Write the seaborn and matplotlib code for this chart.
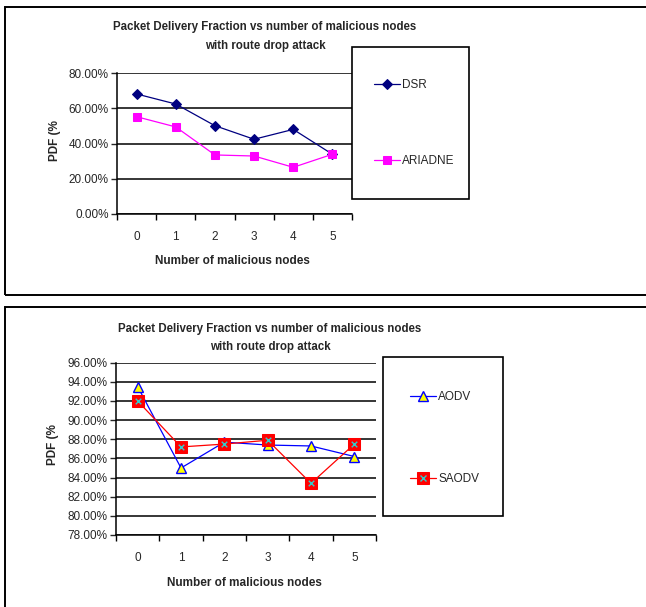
import matplotlib
matplotlib.use("Agg")
import matplotlib.pyplot as plt
from matplotlib.patches import Rectangle
from matplotlib.ticker import PercentFormatter, FixedLocator, NullFormatter
from matplotlib.legend_handler import HandlerTuple
import seaborn as sns
import pandas as pd

nodes = [0, 1, 2, 3, 4, 5]
dsr = [68.1, 62.4, 50.1, 42.4, 48.0, 33.9]
ariadne = [55.2, 49.4, 33.5, 32.9, 26.5, 33.9]
aodv = [93.5, 85.0, 87.7, 87.4, 87.3, 86.2]
saodv = [92.0, 87.2, 87.5, 87.9, 83.4, 87.5]

title = "Packet Delivery Fraction vs number of malicious nodes\nwith route drop attack"
xlabel = "Number of malicious nodes"
ylabel = "PDF (%"

sns.set_style("white")
plt.rcParams['font.family'] = ['Liberation Sans', 'DejaVu Sans']

W, H = 646, 607
fig = plt.figure(figsize=(W / 100, H / 100), dpi=100)


def fx(px):
    return px / W


def fy(py):
    return 1 - py / H


def box(x0, y0, x1, y1, lw=1.4):
    fig.patches.append(Rectangle((fx(x0), fy(y1)), fx(x1) - fx(x0), fy(y0) - fy(y1),
                                 transform=fig.transFigure, fill=False,
                                 edgecolor="black", linewidth=lw, zorder=0))


def style_axes(ax, ymin, ymax, ystep):
    ax.set_xlim(-0.5, 5.5)
    ax.set_ylim(ymin, ymax)
    yt = []
    v = ymin
    while v <= ymax + 1e-9:
        yt.append(v)
        v += ystep
    ax.set_yticks(yt)
    ax.yaxis.set_major_formatter(PercentFormatter(decimals=2))
    ax.xaxis.set_major_locator(FixedLocator([i - 0.5 for i in range(7)]))
    ax.xaxis.set_major_formatter(NullFormatter())
    ax.xaxis.set_minor_locator(FixedLocator(nodes))
    ax.set_xticklabels([str(n) for n in nodes], minor=True)
    ax.tick_params(axis="x", which="major", direction="out", length=4, width=1.0,
                   bottom=True, colors="black")
    ax.tick_params(axis="x", which="minor", length=0, pad=12, labelsize=8.5)
    ax.tick_params(axis="y", direction="out", length=4, width=1.0, left=True,
                   labelsize=8.5, pad=2)
    ax.grid(axis="y", color="black", linewidth=1.1)
    ax.grid(axis="x", visible=False)
    for s in ["top", "right"]:
        ax.spines[s].set_visible(False)
    for s in ["left", "bottom"]:
        ax.spines[s].set_color("black")
        ax.spines[s].set_linewidth(1.1)
    ax.set_xlabel("")
    ax.set_ylabel("")
    ax.set_facecolor("white")


# ---------- top chart ----------
box(5, 7, 660, 295)
ax1 = fig.add_axes([fx(117), fy(214), fx(352) - fx(117), fy(73) - fy(214)])
df1 = pd.DataFrame({"x": nodes, "DSR": dsr, "ARIADNE": ariadne})
sns.lineplot(data=df1, x="x", y="DSR", ax=ax1, color="#000080", marker="D",
             markersize=5.5, markeredgecolor="#000080", linewidth=0.9, label="DSR")
sns.lineplot(data=df1, x="x", y="ARIADNE", ax=ax1, color="#FF00FF", marker="s",
             markersize=6, markeredgecolor="#FF00FF", linewidth=0.9, label="ARIADNE")
style_axes(ax1, 0, 80, 20)
h1, l1 = ax1.get_legend_handles_labels()
ax1.legend_.remove()
box(352, 47, 469, 199, lw=1.2)
fig.legend(h1, l1, loc="upper left", bbox_to_anchor=(fx(374), fy(79)),
           frameon=False, fontsize=8.5, labelspacing=5.4, handlelength=2.2,
           handletextpad=0.2, borderaxespad=0, borderpad=0)
fig.text(fx(265), fy(36.5), title, ha="center", va="center", fontsize=8.3,
         fontweight="bold", linespacing=1.75)
fig.text(fx(232), fy(261), xlabel, ha="center", va="center", fontsize=8.5,
         fontweight="bold")
fig.text(fx(55), fy(141), ylabel, ha="center", va="center", fontsize=8.5,
         fontweight="bold", rotation=90)

# ---------- bottom chart ----------
box(5, 307, 660, 640)
ax2 = fig.add_axes([fx(116), fy(535), fx(376) - fx(116), fy(362.7) - fy(535)])
df2 = pd.DataFrame({"x": nodes, "AODV": aodv, "SAODV": saodv})
sns.lineplot(data=df2, x="x", y="AODV", ax=ax2, color="#0000FF", marker="^",
             markersize=6.5, markerfacecolor="#FFFF00", markeredgecolor="#0000FF",
             markeredgewidth=1.0, linewidth=0.9, label="AODV")
sns.lineplot(data=df2, x="x", y="SAODV", ax=ax2, color="#FF0000", marker="s",
             markersize=8.5, markerfacecolor="#FF0000", markeredgecolor="#FF0000",
             linewidth=0.9, label="SAODV")
sns.scatterplot(data=df2, x="x", y="SAODV", ax=ax2, marker="x", color="#33CCCC",
                s=16, linewidth=1.0, zorder=5, legend=False)
style_axes(ax2, 78, 96, 2)
h2, l2 = ax2.get_legend_handles_labels()
ax2.legend_.remove()
xh = plt.Line2D([], [], linestyle="none", marker="x", color="#33CCCC",
                markersize=4, markeredgewidth=1.0)
handles2 = [h2[0], (h2[1], xh)]
box(383, 357, 503, 516, lw=1.2)
fig.legend(handles2, l2, loc="upper left", bbox_to_anchor=(fx(410), fy(391)),
           frameon=False, fontsize=8.5, labelspacing=5.9, handlelength=2.2,
           handletextpad=0.2, borderaxespad=0, borderpad=0,
           handler_map={tuple: HandlerTuple(ndivide=1, pad=0)})
fig.text(fx(270), fy(338), title, ha="center", va="center", fontsize=8.3,
         fontweight="bold", linespacing=1.75)
fig.text(fx(244), fy(583), xlabel, ha="center", va="center", fontsize=8.5,
         fontweight="bold")
fig.text(fx(53), fy(445), ylabel, ha="center", va="center", fontsize=8.5,
         fontweight="bold", rotation=90)

fig.savefig("out.png", dpi=100, facecolor="white")
